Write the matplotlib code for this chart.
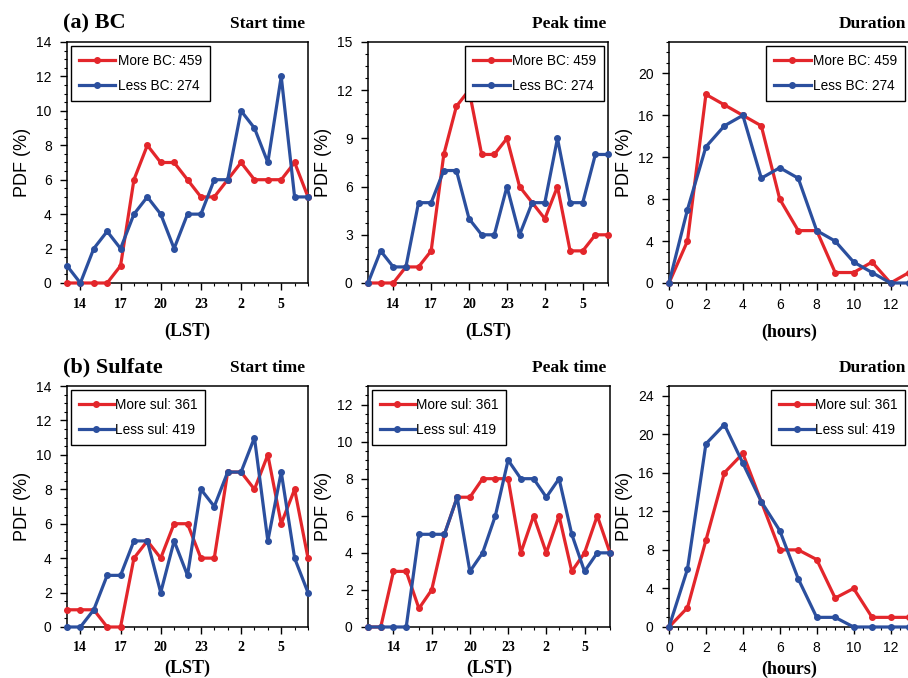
import matplotlib
matplotlib.use("Agg")
import matplotlib.pyplot as plt
from matplotlib.ticker import MultipleLocator, FixedLocator

# ---------------- data ----------------
start_hours = [13, 14, 15, 16, 17, 18, 19, 20, 21, 22, 23, 24, 25, 26, 27, 28, 29, 30, 31]
peak_hours = [12, 13, 14, 15, 16, 17, 18, 19, 20, 21, 22, 23, 24, 25, 26, 27, 28, 29, 30, 31]
duration_hours = [0, 1, 2, 3, 4, 5, 6, 7, 8, 9, 10, 11, 12, 13]

lst_tick_pos = [14, 17, 20, 23, 26, 29]
lst_tick_labels = ["14", "17", "20", "23", "2", "5"]

bc_start_more = [0, 0, 0, 0, 1, 6, 8, 7, 7, 6, 5, 5, 6, 7, 6, 6, 6, 7, 5]
bc_start_less = [1, 0, 2, 3, 2, 4, 5, 4, 2, 4, 4, 6, 6, 10, 9, 7, 12, 5, 5]
bc_peak_more = [0, 0, 0, 1, 1, 2, 8, 11, 12, 8, 8, 9, 6, 5, 4, 6, 2, 2, 3, 3]
bc_peak_less = [0, 2, 1, 1, 5, 5, 7, 7, 4, 3, 3, 6, 3, 5, 5, 9, 5, 5, 8, 8]
bc_dur_more = [0, 4, 18, 17, 16, 15, 8, 5, 5, 1, 1, 2, 0, 1]
bc_dur_less = [0, 7, 13, 15, 16, 10, 11, 10, 5, 4, 2, 1, 0, 0]

sul_start_more = [1, 1, 1, 0, 0, 4, 5, 4, 6, 6, 4, 4, 9, 9, 8, 10, 6, 8, 4]
sul_start_less = [0, 0, 1, 3, 3, 5, 5, 2, 5, 3, 8, 7, 9, 9, 11, 5, 9, 4, 2]
sul_peak_more = [0, 0, 3, 3, 1, 2, 5, 7, 7, 8, 8, 8, 4, 6, 4, 6, 3, 4, 6, 4]
sul_peak_less = [0, 0, 0, 0, 5, 5, 5, 7, 3, 4, 6, 9, 8, 8, 7, 8, 5, 3, 4, 4]
sul_dur_more = [0, 2, 9, 16, 18, 13, 8, 8, 7, 3, 4, 1, 1, 1]
sul_dur_less = [0, 6, 19, 21, 17, 13, 10, 5, 1, 1, 0, 0, 0, 0]

bc_labels = ["More BC: 459", "Less BC: 274"]
sul_labels = ["More sul: 361", "Less sul: 419"]

RED = "#e3262b"
BLUE = "#2b4f9e"

W, H = 908, 678
fig = plt.figure(figsize=(W / 100, H / 100), dpi=100)

def ax_at(left, top, width, height):
    return fig.add_axes([left / W, (H - top - height) / H, width / W, height / H])

serif = "Liberation Serif"
sans = "Liberation Sans"

def style(ax, ylim, ymajor, yminor, xkind, row):
    ax.set_ylim(*ylim)
    ax.yaxis.set_major_locator(MultipleLocator(ymajor))
    ax.yaxis.set_minor_locator(MultipleLocator(yminor))
    xpad = 8 if row == 0 else 4
    tpad = 6 if row == 0 else 5
    if xkind == "dur":
        ax.set_xlim(0, 13)
        ax.xaxis.set_major_locator(MultipleLocator(2))
        ax.xaxis.set_minor_locator(MultipleLocator(0.5))
        ax.set_xlabel("(hours)", fontfamily=serif, fontweight="bold", fontsize=13, labelpad=xpad)
        for t in ax.get_xticklabels():
            t.set_fontfamily(sans)
    else:
        ax.xaxis.set_major_locator(FixedLocator(lst_tick_pos))
        ax.set_xticklabels(lst_tick_labels, fontfamily=serif, fontweight="bold")
        ax.xaxis.set_minor_locator(MultipleLocator(1))
        ax.set_xlabel("(LST)", fontfamily=serif, fontweight="bold", fontsize=13, labelpad=xpad)
    ax.set_ylabel("PDF (%)", fontfamily=sans, fontsize=13, labelpad=4)
    ax.tick_params(which="major", direction="out", length=5, width=1, labelsize=10)
    ax.tick_params(axis="x", which="major", pad=tpad)
    ax.tick_params(axis="y", which="major", pad=6)
    ax.tick_params(which="minor", direction="out", length=2.5, width=0.8)
    for t in ax.get_yticklabels():
        t.set_fontfamily(sans)
    for s in ax.spines.values():
        s.set_linewidth(1.1)
        s.set_color("black")

def plot(ax, x, more, less, labels, loc, hl, htp):
    ax.plot(x, more, color=RED, lw=2.3, marker="o", ms=4, label=labels[0], clip_on=False, zorder=3)
    ax.plot(x, less, color=BLUE, lw=2.3, marker="o", ms=4, label=labels[1], clip_on=False, zorder=3)
    leg = ax.legend(loc=loc, fancybox=False, edgecolor="black", framealpha=1,
                    prop={"family": sans, "size": 9.8}, handlelength=hl,
                    handletextpad=htp, borderpad=0.55, labelspacing=0.85,
                    borderaxespad=0.3)
    leg.get_frame().set_linewidth(1.0)

row_tops = [42, 386]
col_lefts = [67, 368, 669]
ah = 241

ax1 = ax_at(col_lefts[0], row_tops[0], 241, ah)
ax1.set_xlim(13, 31)
plot(ax1, start_hours, bc_start_more, bc_start_less, bc_labels, "upper left", 2.7, 0.2)
style(ax1, (0, 14), 2, 0.5, "lst", 0)

ax2 = ax_at(col_lefts[1], row_tops[0], 240, ah)
ax2.set_xlim(12, 31)
plot(ax2, peak_hours, bc_peak_more, bc_peak_less, bc_labels, "upper right", 2.7, 0.2)
style(ax2, (0, 15), 3, 0.75, "lst", 0)

ax3 = ax_at(col_lefts[2], row_tops[0], 240, ah)
plot(ax3, duration_hours, bc_dur_more, bc_dur_less, bc_labels, "upper right", 2.7, 0.2)
style(ax3, (0, 23), 4, 1, "dur", 0)

ax4 = ax_at(col_lefts[0], row_tops[1], 241, ah)
ax4.set_xlim(13, 31)
plot(ax4, start_hours, sul_start_more, sul_start_less, sul_labels, "upper left", 2.6, 0.05)
style(ax4, (0, 14), 2, 0.5, "lst", 1)

ax5 = ax_at(col_lefts[1], row_tops[1], 242, ah)
ax5.set_xlim(12, 31)
plot(ax5, peak_hours, sul_peak_more, sul_peak_less, sul_labels, "upper left", 2.6, 0.05)
style(ax5, (0, 13), 2, 0.5, "lst", 1)

ax6 = ax_at(col_lefts[2], row_tops[1], 240, ah)
plot(ax6, duration_hours, sul_dur_more, sul_dur_less, sul_labels, "upper right", 2.6, 0.05)
style(ax6, (0, 25), 4, 1, "dur", 1)

# panel titles
fig.text(63 / W, 1 - 28 / H, "(a) BC", fontfamily=serif, fontweight="bold", fontsize=16, ha="left", va="baseline")
fig.text(63 / W, 1 - 372 / H, "(b) Sulfate", fontfamily=serif, fontweight="bold", fontsize=16, ha="left", va="baseline")
for top, names in zip([28, 372], [["Start time", "Peak time", "Duration"]] * 2):
    for right, name in zip([305, 606, 906], names):
        fig.text(right / W, 1 - top / H, name, fontfamily=serif, fontweight="bold", fontsize=12.5,
                 ha="right", va="baseline")

fig.savefig("out.png", dpi=100)
